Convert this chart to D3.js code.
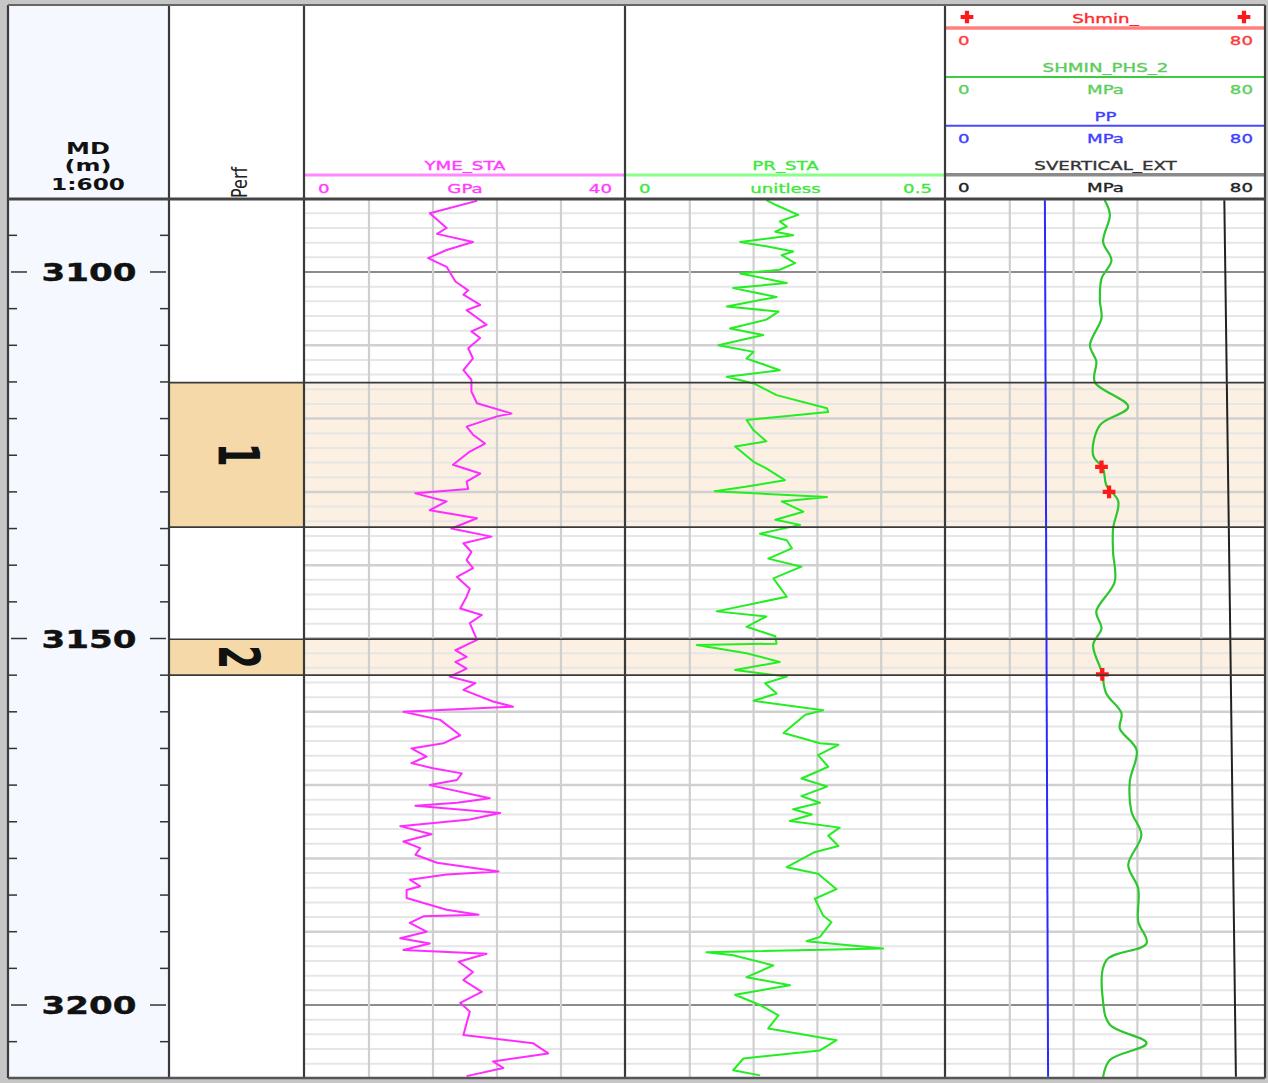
<!DOCTYPE html>
<html><head><meta charset="utf-8">
<script src="https://cdn.jsdelivr.net/npm/d3@7"></script>
<style>html,body{margin:0;padding:0;background:#c6c6c6;} svg{display:block}</style>
</head><body>
<svg id="c" width="1268" height="1083"></svg>
<script>
// ---------------- DATA ----------------
const depthLabels = [3100, 3150, 3200];
const perfNames = ["1", "2"];
const perfTop = [3115.1, 3150.1];
const perfBase = [3134.8, 3155.0];

const ymeDepth = [3090.3,3092.0,3094.0,3094.8,3095.9,3097.0,3098.1,3099.3,3101.3,3102.5,3103.1,3104.5,3105.2,3107.2,3108.1,3109.0,3110.4,3111.8,3113.4,3114.7,3116.3,3117.9,3119.3,3119.7,3121.1,3122.2,3123.4,3124.5,3126.3,3127.5,3128.6,3129.6,3130.2,3131.3,3132.5,3133.6,3135.0,3136.1,3137.0,3138.2,3139.3,3140.4,3141.6,3143.2,3144.3,3145.9,3146.8,3147.9,3150.2,3151.6,3152.5,3153.2,3154.1,3155.2,3156.1,3157.0,3158.6,3159.3,3160.0,3161.1,3163.2,3164.3,3165.0,3166.1,3167.0,3167.7,3168.4,3169.3,3170.0,3171.8,3172.4,3172.8,3173.8,3174.7,3175.6,3176.7,3177.7,3178.6,3179.5,3180.6,3181.8,3182.2,3182.9,3183.8,3184.3,3185.4,3187.0,3187.7,3187.9,3188.8,3190.0,3190.9,3191.6,3192.5,3193.0,3194.1,3195.5,3196.6,3198.2,3199.7,3200.9,3204.1,3205.2,3206.6,3207.7,3208.6,3209.7];
const ymeValue = [21.5,15.6,17.7,16.5,21.0,17.7,15.4,17.7,18.8,20.4,19.8,21.9,20.2,22.7,20.8,21.9,20.4,21.0,19.8,20.8,20.8,21.5,25.8,24.0,20.2,21.0,22.5,20.6,18.5,21.9,20.2,20.4,13.8,17.7,15.6,21.5,18.3,23.3,19.8,20.8,20.2,21.0,19.0,20.6,20.2,19.4,22.1,20.6,21.5,18.8,20.2,18.8,20.2,18.1,21.3,19.8,23.5,26.0,12.3,16.9,19.4,17.3,13.3,15.2,13.3,16.0,19.6,19.0,15.6,23.1,19.0,13.8,24.4,20.6,11.9,15.8,12.3,14.4,13.8,16.5,24.2,17.7,13.1,14.4,12.7,12.7,17.7,21.7,14.8,13.1,15.2,11.9,15.6,12.3,22.7,19.2,21.0,19.8,22.1,19.4,20.6,19.8,28.5,30.4,23.5,24.8,20.2];

const prDepth = [3090.2,3090.9,3092.2,3093.1,3093.8,3094.5,3095.0,3095.9,3096.5,3097.2,3097.7,3098.8,3099.7,3100.2,3101.5,3102.2,3103.4,3104.7,3105.4,3106.5,3107.7,3108.6,3110.0,3110.9,3111.8,3113.4,3114.3,3115.2,3116.8,3118.6,3119.1,3120.2,3121.6,3123.1,3123.8,3125.9,3126.8,3128.4,3129.3,3129.9,3130.7,3131.3,3132.7,3133.8,3134.5,3135.7,3136.6,3137.7,3139.1,3140.2,3141.8,3144.3,3146.3,3147.0,3148.4,3149.7,3150.7,3150.9,3152.0,3153.2,3154.3,3155.2,3156.1,3157.5,3158.5,3159.8,3160.4,3162.9,3164.3,3164.5,3165.9,3167.5,3169.1,3170.2,3171.5,3172.4,3173.3,3174.0,3174.9,3175.8,3176.9,3178.3,3179.2,3181.2,3182.1,3184.2,3185.5,3187.8,3188.7,3190.7,3191.3,3192.3,3192.8,3193.2,3194.6,3196.2,3197.3,3198.6,3200.0,3201.4,3203.2,3204.8,3206.2,3207.3,3208.9,3209.6];
const prValue = [0.220,0.236,0.270,0.241,0.252,0.234,0.262,0.179,0.220,0.262,0.244,0.265,0.241,0.179,0.252,0.168,0.236,0.158,0.239,0.220,0.163,0.215,0.145,0.200,0.189,0.241,0.158,0.200,0.236,0.315,0.317,0.189,0.200,0.220,0.171,0.200,0.220,0.249,0.187,0.139,0.315,0.244,0.278,0.234,0.273,0.210,0.252,0.260,0.223,0.275,0.231,0.252,0.142,0.220,0.189,0.234,0.236,0.111,0.189,0.241,0.171,0.252,0.218,0.236,0.200,0.309,0.281,0.247,0.304,0.333,0.301,0.317,0.275,0.315,0.275,0.304,0.262,0.291,0.257,0.335,0.317,0.333,0.294,0.252,0.301,0.330,0.296,0.309,0.322,0.304,0.283,0.403,0.126,0.168,0.231,0.189,0.257,0.171,0.210,0.239,0.223,0.330,0.304,0.184,0.168,0.210];

const shminPhsDepth = [3090.2,3092.2,3095.9,3098.4,3100.9,3104.0,3106.3,3110.0,3112.2,3115.0,3118.4,3120.9,3125.0,3126.8,3129.1,3131.3,3135.0,3138.2,3142.3,3146.3,3148.6,3150.9,3154.5,3157.5,3160.2,3162.3,3165.2,3169.5,3173.6,3176.8,3180.9,3184.1,3188.6,3191.6,3193.9,3199.6,3202.7,3205.2,3207.5,3209.8];
const shminPhsValue = [39.8,41.1,39.4,41.5,39.0,38.6,39.0,36.1,37.7,37.3,45.7,38.6,36.9,39.4,40.2,43.2,41.9,41.9,42.3,37.7,39.0,36.9,39.0,40.2,44.0,43.6,47.8,46.1,46.5,49.0,45.7,48.2,48.2,50.3,40.2,39.4,41.1,50.3,41.1,39.4];

const shminDepth = [3126.6, 3130.0, 3154.9];
const shminValue = [39.0, 40.9, 39.2];

const ppDepth = [3090.2, 3209.8];
const ppValue = [24.8, 25.6];

const svDepth = [3090.2, 3150.0, 3209.8];
const svValue = [69.8, 71.3, 72.7];

// track scale labels
const ymeScale = ["0", "GPa", "40"];
const prScale = ["0", "unitless", "0.5"];
const stressTitles = ["Shmin_", "SHMIN_PHS_2", "PP", "SVERTICAL_EXT"];
const stressUnits = ["", "MPa", "MPa", "MPa"];
const stressMin = [0, 0, 0, 0];
const stressMax = [80, 80, 80, 80];

// ---------------- LAYOUT ----------------
const svg = d3.select("#c");
const FONT = "DejaVu Sans, Verdana, sans-serif";
const L = 8, R = 1265, TOP = 5, BOT = 1078, HB = 199;
const xDepth = [L, 169], xPerf = [169, 304], xYme = [304, 625], xPr = [625, 945], xSt = [945, R];

const y = d3.scaleLinear().domain([3090.18, 3209.82]).range([200, 1077]);
const xY = d3.scaleLinear().domain([0, 40]).range([305, 625]);
const xP = d3.scaleLinear().domain([0, 0.5]).range([626, 945]);
const xS = d3.scaleLinear().domain([0, 80]).range([946, 1265]);

function txt(g, x, yy, s, o) {
  o = o || {};
  const t = g.append("text")
    .attr("transform", `translate(${x},${yy}) scale(${o.sx || 1.4},1)`)
    .attr("text-anchor", o.anchor || "middle")
    .attr("font-family", FONT)
    .attr("font-size", o.size || 13)
    .attr("font-weight", o.weight || "normal")
    .attr("fill", o.color || "#000")
    .text(s);
  if (o.stroke) t.attr("stroke", o.color || "#000").attr("stroke-width", o.stroke);
  return t;
}

// panel
svg.append("rect").attr("x", L).attr("y", TOP).attr("width", R - L).attr("height", BOT - TOP).attr("fill", "#fff");
svg.append("rect").attr("x", xDepth[0]).attr("y", TOP).attr("width", xDepth[1] - xDepth[0]).attr("height", BOT - TOP).attr("fill", "#f5f9ff");

const clip = svg.append("defs").append("clipPath").attr("id", "body");
clip.append("rect").attr("x", 304).attr("y", 200).attr("width", R - 304).attr("height", BOT - 200);

// perf band background in data tracks and perf track fills
const perfs = perfNames.map((n, i) => ({ n, t: perfTop[i], b: perfBase[i] }));
svg.selectAll(".pband").data(perfs).enter().append("rect")
  .attr("x", xYme[0]).attr("width", R - xYme[0])
  .attr("y", d => y(d.t)).attr("height", d => y(d.b) - y(d.t))
  .attr("fill", "#fbf0e1");
svg.selectAll(".pfill").data(perfs).enter().append("rect")
  .attr("x", xPerf[0]).attr("width", xPerf[1] - xPerf[0])
  .attr("y", d => y(d.t)).attr("height", d => y(d.b) - y(d.t))
  .attr("fill", "#f5d9a9");

// grid
const grid = svg.append("g").attr("clip-path", "url(#body)");
const gridDepths = d3.range(3092, 3210, 2);
const tracks = [xY, xP, xS];
tracks.forEach(sc => {
  const [a, b] = sc.range();
  grid.selectAll(null).data(gridDepths).enter().append("line")
    .attr("x1", a).attr("x2", b).attr("y1", d => y(d)).attr("y2", d => y(d))
    .attr("stroke", d => d % 50 === 0 ? "#8c8c8c" : d % 10 === 0 ? "#d0d0d0" : "#e6e6e6")
    .attr("stroke-width", d => d % 50 === 0 ? 2 : d % 10 === 0 ? 2.5 : 2);
  const ticks5 = d3.range(1, 5).map(i => sc.domain()[0] + (sc.domain()[1] - sc.domain()[0]) * i / 5);
  grid.selectAll(null).data(ticks5).enter().append("line")
    .attr("x1", d => sc(d)).attr("x2", d => sc(d)).attr("y1", 200).attr("y2", BOT)
    .attr("stroke", "#cfcfcf").attr("stroke-width", 2.2);
});

// curves
const line = (xs) => d3.line().x(d => xs(d.v)).y(d => y(d.d));
const zipd = (ds, vs) => ds.map((d, i) => ({ d, v: vs[i] }));
const curves = svg.append("g").attr("clip-path", "url(#body)");
curves.append("path").datum(zipd(ymeDepth, ymeValue)).attr("d", line(xY))
  .attr("fill", "none").attr("stroke", "#ff2cff").attr("stroke-width", 2).attr("stroke-linejoin", "round");
curves.append("path").datum(zipd(prDepth, prValue)).attr("d", line(xP))
  .attr("fill", "none").attr("stroke", "#22ee22").attr("stroke-width", 2).attr("stroke-linejoin", "round");
curves.append("path").datum(zipd(ppDepth, ppValue)).attr("d", line(xS))
  .attr("fill", "none").attr("stroke", "#2a2aff").attr("stroke-width", 2);
curves.append("path").datum(zipd(svDepth, svValue)).attr("d", line(xS))
  .attr("fill", "none").attr("stroke", "#222").attr("stroke-width", 2);
curves.append("path").datum(zipd(shminPhsDepth, shminPhsValue)).attr("d", line(xS).curve(d3.curveCatmullRom.alpha(0.5)))
  .attr("fill", "none").attr("stroke", "#2ec62e").attr("stroke-width", 2.2);
const sym = d3.symbol().type(d3.symbolCross).size(90);
curves.selectAll(".sh").data(zipd(shminDepth, shminValue)).enter().append("path")
  .attr("d", sym).attr("transform", d => `translate(${xS(d.v)},${y(d.d)})`).attr("fill", "#ff1a1a");

// perf boundary lines
const bounds = perfs.flatMap(p => [p.t, p.b]);
svg.selectAll(".pb").data(bounds).enter().append("line")
  .attr("x1", xPerf[0]).attr("x2", R).attr("y1", d => y(d)).attr("y2", d => y(d))
  .attr("stroke", "#3a3a3a").attr("stroke-width", 1.6);

// perf labels
svg.selectAll(".pl").data(perfs).enter().append("text")
  .attr("transform", d => `translate(${(xPerf[0] + xPerf[1]) / 2 + 2},${y((d.t + d.b) / 2)}) rotate(90) scale(1,1.7)`)
  .attr("text-anchor", "middle").attr("dominant-baseline", "central")
  .attr("font-family", FONT).attr("font-weight", "bold").attr("font-size", 34).attr("fill", "#111")
  .text(d => d.n);

// depth ticks & labels
const dticks = d3.range(3095, 3210, 5);
const dt = svg.append("g");
dticks.forEach(d => {
  const major = depthLabels.includes(d);
  const len = major ? 16 : 9;
  const off = major ? 3 : 0;
  dt.append("line").attr("x1", xDepth[0] + off).attr("x2", xDepth[0] + off + len).attr("y1", y(d)).attr("y2", y(d)).attr("stroke", "#333").attr("stroke-width", 1.5);
  dt.append("line").attr("x1", xDepth[1] - off - len).attr("x2", xDepth[1] - off).attr("y1", y(d)).attr("y2", y(d)).attr("stroke", "#333").attr("stroke-width", 1.5);
});
depthLabels.forEach(d => txt(dt, 89, y(d) + 9, String(d), { size: 24, weight: "bold", color: "#111", sx: 1.42, stroke: 0.4 }));

// depth header
txt(svg, 88, 154, "MD", { size: 16, weight: "bold", color: "#111", sx: 1.5 });
txt(svg, 88, 171, "(m)", { size: 16, weight: "bold", color: "#111", sx: 1.5 });
txt(svg, 88, 190, "1:600", { size: 16, weight: "bold", color: "#111", sx: 1.45 });

// perf header
svg.append("text").attr("transform", "translate(247,198) rotate(-90) scale(1,1.3)")
  .attr("text-anchor", "start").attr("font-family", FONT).attr("font-size", 16).attr("fill", "#222").text("Perf");

// data track headers
function trackHeader(sc, title, scaleLabels, lineCol, textCol, rowCol) {
  const [a, b] = sc.range();
  const yT = 170, yL = 175, yR = 193;
  txt(svg, (a + b) / 2, yT, title, { color: textCol, stroke: 0.35 });
  svg.append("line").attr("x1", a).attr("x2", b).attr("y1", yL).attr("y2", yL).attr("stroke", lineCol).attr("stroke-width", 3);
  txt(svg, a + 13, yR, scaleLabels[0], { anchor: "start", color: rowCol, stroke: 0.35 });
  txt(svg, (a + b) / 2, yR, scaleLabels[1], { color: rowCol, stroke: 0.35 });
  txt(svg, b - 13, yR, scaleLabels[2], { anchor: "end", color: rowCol, stroke: 0.35 });
}
trackHeader(xY, "YME_STA", ymeScale, "#ff88ff", "#ff3cff", "#ff3cff");
trackHeader(xP, "PR_STA", prScale, "#88ff88", "#3fe83f", "#3fe83f");

// stress header
const stStyle = [
  { line: "#ff7f7f", text: "#ff2a2a", row: "#ff3a3a", w: 3.5 },
  { line: "#3fca3f", text: "#5ccc5c", row: "#5cd05c", w: 2 },
  { line: "#4848ff", text: "#4040ff", row: "#4040ff", w: 2 },
  { line: "#8a8a8a", text: "#333", row: "#222", w: 3.5 }
];
stressTitles.forEach((t, i) => {
  const [a, b] = xS.range();
  const yT = 23 + 48.9 * i, yL = yT + 5, yR = yT + 22;
  const s = stStyle[i];
  txt(svg, (a + b) / 2, yT, t, { color: s.text, stroke: 0.35 });
  svg.append("line").attr("x1", xSt[0]).attr("x2", R).attr("y1", yL).attr("y2", yL).attr("stroke", s.line).attr("stroke-width", s.w);
  txt(svg, a + 12, yR, String(stressMin[i]), { anchor: "start", color: s.row, stroke: 0.35 });
  if (stressUnits[i]) txt(svg, (a + b) / 2, yR, stressUnits[i], { color: s.row, stroke: 0.35 });
  txt(svg, b - 12, yR, String(stressMax[i]), { anchor: "end", color: s.row, stroke: 0.35 });
  if (i === 0) {
    [a + 21, b - 21].forEach(x => svg.append("path").attr("d", sym).attr("transform", `translate(${x},${yT - 6})`).attr("fill", "#ff1a1a"));
  }
});

// frame lines
const frame = svg.append("g").attr("stroke", "#3a3a3a");
[xDepth[0], xDepth[1], xPerf[1], xYme[1], xPr[1], R].forEach(x => {
  frame.append("line").attr("x1", x).attr("x2", x).attr("y1", TOP).attr("y2", BOT).attr("stroke-width", 2.2);
});
frame.append("line").attr("x1", L).attr("x2", R).attr("y1", HB).attr("y2", HB).attr("stroke-width", 2.8).attr("stroke", "#444");
frame.append("line").attr("x1", L).attr("x2", R).attr("y1", TOP).attr("y2", TOP).attr("stroke-width", 2).attr("stroke", "#666");
frame.append("line").attr("x1", L).attr("x2", R).attr("y1", BOT).attr("y2", BOT).attr("stroke-width", 2.5).attr("stroke", "#555");
</script>
</body></html>
